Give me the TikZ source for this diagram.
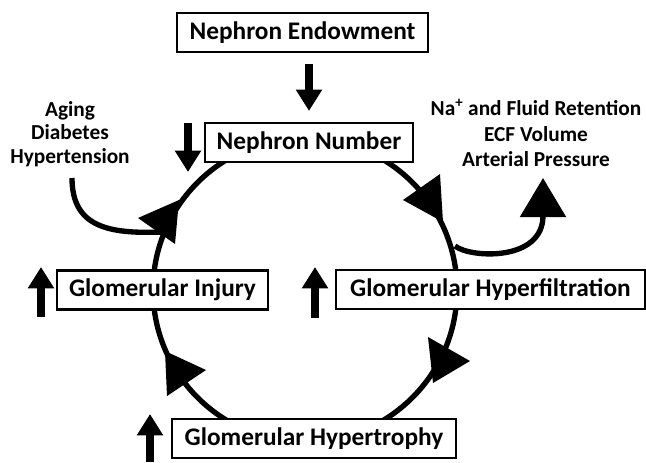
\documentclass[tikz,border=0pt]{standalone}
\usepackage{fontspec}
\setmainfont{Carlito}
\usetikzlibrary{arrows.meta}
\begin{document}
\begin{tikzpicture}[x=0.75pt,y=-0.75pt,
  box/.style={draw, line width=1.6pt, fill=white, minimum height=29.25pt, inner sep=0pt,
              font=\fontsize{19}{22}\selectfont\bfseries},
  cyc/.style={line width=4pt},
  fat/.style={line width=6pt, -{Triangle[width=18.75pt,length=16pt]}},
  headtri/.style={fill=black},
  side/.style={align=center, inner sep=0pt, font=\fontsize{16}{17.6}\selectfont\bfseries}]
\useasboundingbox (0,0) rectangle (646,462);
% cycle
\coordinate (c) at (305,290);
\draw[cyc] (c) circle[radius=152];
% side texts
\node[side, anchor=north] (risk) at (70,101) {Aging\\Diabetes\\Hypertension};
\node[side, anchor=north, font=\fontsize{16}{19}\selectfont\bfseries] (ret) at (536,99) {Na\textsuperscript{+} and Fluid Retention\\ECF Volume\\Arterial Pressure};
% branches
\coordinate (lb) at (72,178);
\coordinate (lj) at (163,232);
\draw[cyc] (lb) .. controls (72,228) and (110,234) .. (lj);
\coordinate (rb) at (455,246);
\coordinate (rt) at (543,178);
\draw[cyc, -{Triangle[width=33.75pt,length=29.25pt]}] (rb) .. controls (470,258) and (543,262) .. (rt);
% arrowheads on the cycle
\fill[headtri] (138,218) -- (179,200) -- (175,244) -- cycle;
\fill[headtri] (440,174) -- (403,200) -- (443,222) -- cycle;
\fill[headtri] (428,337) -- (470,361) -- (433,383) -- cycle;
\fill[headtri] (165,351) -- (206,370) -- (167,396) -- cycle;
% boxes
\node[box, minimum width=188.25pt] (ne) at (302.5,32.5) {Nephron Endowment};
\node[box, minimum width=156pt] (nn) at (309,142.5) {Nephron Number};
\node[box, minimum width=158.25pt] (gi) at (162.5,290) {Glomerular Injury};
\node[box, minimum width=231.75pt] (gh) at (490.5,289.5) {Glomerular Hyperfiltration};
\node[box, minimum width=213pt] (gt) at (314,438.5) {Glomerular Hypertrophy};
% thick indicator arrows
\draw[fat, shorten <=8.25pt, shorten >=8.25pt] (ne.south -| nn.north) -- (nn.north);
\coordinate (d2s) at (188,123); \coordinate (d2e) at (188,172);
\draw[fat] (d2s) -- (d2e);
\coordinate (u1s) at (41,317); \coordinate (u1e) at (41,267);
\draw[fat] (u1s) -- (u1e);
\coordinate (u2s) at (315,318); \coordinate (u2e) at (315,267);
\draw[fat] (u2s) -- (u2e);
\coordinate (u3s) at (150,462); \coordinate (u3e) at (150,414);
\draw[fat] (u3s) -- (u3e);
\end{tikzpicture}
\end{document}
